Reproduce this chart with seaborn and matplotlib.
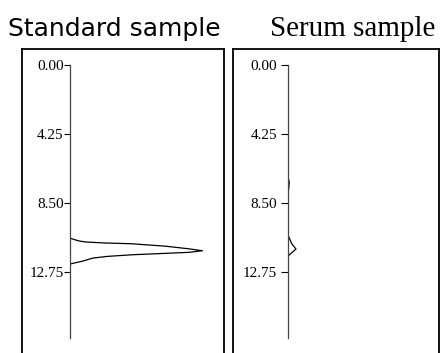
import numpy as np
import pandas as pd
import matplotlib
matplotlib.use("Agg")
import matplotlib.pyplot as plt
import seaborn as sns

### chromatogram traces (time in min, signal in % of panel width)
std_time = [0.00, 10.65, 10.75, 10.83, 10.89, 10.95, 11.00, 11.15, 11.31, 11.43,
            11.53, 11.59, 11.68, 11.78, 11.88, 11.96, 12.05, 12.16, 12.25, 16.80]
std_signal = [0, 0, 3, 6, 10, 22, 40, 62, 77, 86,
              77, 62, 40, 24, 15, 12, 9, 4, 0, 0]

serum_time = [0.00, 6.90, 7.20, 7.60, 7.90, 10.47, 11.00, 11.33, 11.55, 11.76, 16.80]
serum_signal = [0, 0, 0.8, 0.5, 0, 0, 2.5, 5.3, 2.5, 0, 0]

tick_values = [0.00, 4.25, 8.50, 12.75]
tick_labels = ["0.00", "4.25", "8.50", "12.75"]
titles = ["Standard sample", "Serum sample"]

W, H = 441, 353
sns.set_style("white")

fig = plt.figure(figsize=(W / 100, H / 100), dpi=100)


### one panel: outer box, inner time axis and the trace
def draw_panel(box_left, box_right, axis_x, time, signal, title, title_font, title_size,
               title_x, pad, tick_len):
    box = fig.add_axes([box_left / W, -0.1, (box_right - box_left) / W, 1.1 - 49 / H])
    box.set_xticks([])
    box.set_yticks([])
    for side in ["left", "top", "right"]:
        box.spines[side].set_visible(True)
        box.spines[side].set_color("black")
        box.spines[side].set_linewidth(1.3)
    box.spines["bottom"].set_visible(False)

    ax = fig.add_axes([axis_x / W, 1 - 338 / H, (box_right - axis_x) / W, (338 - 65) / H])
    ax.patch.set_visible(False)
    df = pd.DataFrame({"time": time, "signal": signal})
    sns.lineplot(data=df, x="signal", y="time", sort=False, estimator=None,
                 color="black", linewidth=0.9, ax=ax)
    ax.set_xlim(0, 100)
    ax.set_ylim(16.8, 0)
    ax.set_xticks([])
    ax.set_yticks(tick_values)
    ax.set_yticklabels(tick_labels, family="Liberation Serif", fontsize=11, color="black")
    ax.tick_params(axis="y", direction="out", length=tick_len, width=0.8, pad=pad, left=True,
                   color="black")
    for side in ["top", "right", "bottom"]:
        ax.spines[side].set_visible(False)
    ax.spines["left"].set_visible(True)
    ax.spines["left"].set_color("#444444")
    ax.spines["left"].set_linewidth(0.9)
    ax.set_xlabel("")
    ax.set_ylabel("")

    fig.text(title_x / W, 1 - 29 / H, title, family=title_font, fontsize=title_size,
             ha="center", va="center", color="black")


draw_panel(22, 224, 70, std_time, std_signal, titles[0], "DejaVu Sans", 18, 114, 0.5, 4)
draw_panel(233, 439, 288, serum_time, serum_signal, titles[1], "Liberation Serif", 21, 353, 3, 5)

fig.savefig("out.png", dpi=100)
